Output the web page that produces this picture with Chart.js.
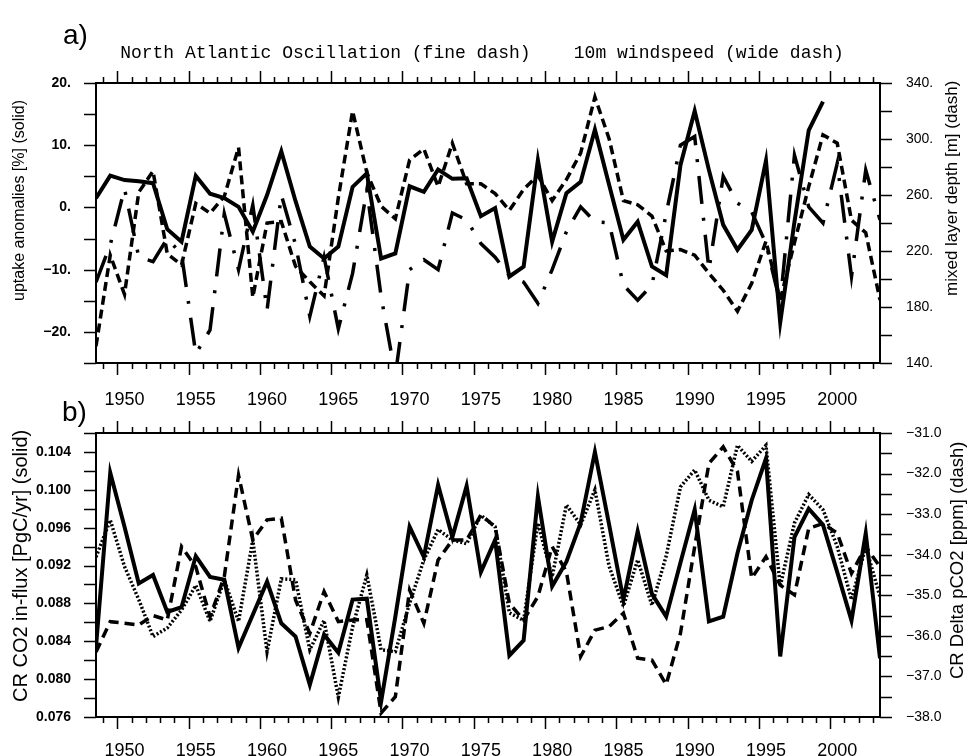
<!DOCTYPE html>
<html><head><meta charset="utf-8">
<script src="https://cdn.jsdelivr.net/npm/chart.js@4.4.1/dist/chart.umd.min.js"></script>
<style>
html,body{margin:0;padding:0;background:#fff;}
#wrap{position:relative;width:976px;height:756px;overflow:hidden;background:#fff;}
canvas{position:absolute;left:0;}
#ca{top:0;}
#cb{top:380px;}
</style></head><body>
<div id="wrap"><canvas id="ca" width="976" height="410"></canvas><canvas id="cb" width="976" height="376"></canvas></div>
<script>
// ---------- data ----------
const years = [1948,1949,1950,1951,1952,1953,1954,1955,1956,1957,1958,1959,1960,1961,1962,1963,1964,1965,1966,1967,1968,1969,1970,1971,1972,1973,1974,1975,1976,1977,1978,1979,1980,1981,1982,1983,1984,1985,1986,1987,1988,1989,1990,1991,1992,1993,1994,1995,1996,1997,1998,1999,2000,2001,2002,2003];

// panel a
const uptakeSolid = [1.5,5.1,4.4,4.2,3.9,-3.5,-5.5,5.1,2.2,1.5,0.1,-3.9,2.0,9.0,1.0,-6.3,-8.2,-6.3,3.3,5.5,-8.2,-7.4,3.4,2.5,6.1,4.6,4.7,-1.4,-0.1,-11.1,-9.5,7.6,-5.5,2.3,4.1,12.5,3.6,-5.2,-2.3,-9.5,-10.9,6.8,15.5,6.0,-2.8,-6.8,-3.6,7.5,-18.5,-2.3,12.4,17.0,null,null,null,null];
const mldDash = [152,217,189,262,277,218,210,254,247,259,294,187,240,241,209,198,188,258,320,276,252,243,285,293,266,297,268,268,261,249,264,274,256,271,290,330,300,256,253,245,220,221,217,204,192,177,197,227,185,226,266,303,297,242,233,185];
const windWideDash = [-12,-6,3,-8,-8.7,-5,-7.5,-23.5,-19.7,-1,-10,0.4,-16.5,2,-6,-17.5,-8,-19.5,-10.6,2.8,-14.3,-27,-10,-8.4,-10,-0.9,-2,-5.8,-8,-11,-12,-15.4,-10,-3.9,0.1,-2.3,-2.5,-12.5,-14.9,-12.5,-1,10,11.4,-10,5,0.7,-0.7,-5.8,-15.4,8.4,0.1,-2.5,7.1,-11.1,6,-2];

// panel b
const influxSolid = [0.0834,0.1018,0.0961,0.0901,0.0910,0.0871,0.0876,0.0930,0.0908,0.0905,0.0833,0.0868,0.0903,0.0859,0.0845,0.0794,0.0847,0.0828,0.0884,0.0885,0.0776,0.0866,0.0961,0.0929,0.1005,0.0950,0.1004,0.0913,0.0947,0.0825,0.0841,0.0993,0.0898,0.0924,0.0965,0.1040,0.0963,0.0884,0.0956,0.0890,0.0866,0.0923,0.0979,0.0861,0.0866,0.0933,0.0989,0.1033,0.0824,0.0950,0.0980,0.0963,0.0913,0.0862,0.0954,0.0822];
const influxDotted = [0.0929,0.0968,0.0919,0.0884,0.0845,0.0854,0.0873,0.0899,0.0861,0.0905,0.0861,0.0947,0.0829,0.0906,0.0905,0.0831,0.0862,0.0781,0.0855,0.0910,0.0831,0.0829,0.0880,0.0926,0.0958,0.0947,0.0943,0.0973,0.0961,0.0870,0.0862,0.0965,0.0908,0.0984,0.0963,0.1000,0.0919,0.0877,0.0926,0.0878,0.0930,0.1003,0.1021,0.0989,0.0982,0.1047,0.1030,0.1047,0.0898,0.0965,0.0995,0.0979,0.0940,0.0884,0.0940,0.0887];
const deltaPco2Dash = [-36.4,-35.65,-35.69,-35.73,-35.5,-35.61,-33.8,-34.3,-35.53,-34.54,-32.04,-33.64,-33.14,-33.1,-35.12,-35.94,-34.91,-35.65,-35.61,-35.6,-37.9,-37.5,-34.87,-35.69,-34.13,-33.64,-33.64,-33.02,-33.31,-35.2,-35.61,-35.03,-33.8,-34.42,-36.51,-35.86,-35.77,-35.44,-36.55,-36.6,-37.2,-35.94,-33.8,-31.75,-31.34,-31.95,-34.58,-34.05,-34.75,-34.99,-33.35,-33.23,-33.47,-34.46,-33.8,-34.3];

// tick labels
const yearTicks = [1950,1955,1960,1965,1970,1975,1980,1985,1990,1995,2000];
const leftTicksA = [-20,-10,0,10,20];
const rightTicksA = [140,180,220,260,300,340];
const leftTicksB = [0.076,0.080,0.084,0.088,0.092,0.096,0.100,0.104];
const rightTicksB = [-38,-37,-36,-35,-34,-33,-32,-31];

// ---------- plugins ----------
const frameTicks = {
  id: 'frameTicks',
  afterDraw(chart, args, o) {
    const {ctx, chartArea: a, scales} = chart;
    ctx.save();
    ctx.strokeStyle = '#000';
    ctx.lineWidth = 1.5;
    ctx.beginPath();
    const xs = scales.x;
    for (let b = xs.min + 0.5; b < xs.max; b += 1) {
      const px = Math.round(xs.getPixelForValue(b)) + 0.5;
      const major = Math.round(b + 0.5) % 5 === 0;
      const len = major ? 12 : 6;
      ctx.moveTo(px, a.top); ctx.lineTo(px, a.top - len);
      ctx.moveTo(px, a.bottom); ctx.lineTo(px, a.bottom + len);
    }
    const drawY = (scale, start, end, step, side) => {
      const n = Math.round((end - start) / step);
      for (let i = 0; i <= n; i++) {
        const v = start + i * step;
        const py = Math.round(scale.getPixelForValue(v)) + 0.5;
        if (side === 'left') { ctx.moveTo(a.left, py); ctx.lineTo(a.left - 12, py); }
        else { ctx.moveTo(a.right, py); ctx.lineTo(a.right + 12, py); }
      }
    };
    drawY(scales.yL, o.l[0], o.l[1], o.l[2], 'left');
    drawY(scales.yR, o.r[0], o.r[1], o.r[2], 'right');
    ctx.stroke();
    ctx.lineWidth = 2;
    ctx.strokeRect(a.left, a.top, a.right - a.left, a.bottom - a.top);
    ctx.restore();
  }
};
const panelText = {
  id: 'panelText',
  afterDraw(chart, args, o) {
    const ctx = chart.ctx;
    ctx.save();
    ctx.fillStyle = '#000';
    for (const t of o.items) {
      ctx.save();
      ctx.font = t.font;
      ctx.translate(t.x, t.y);
      if (t.rot) ctx.rotate(-Math.PI / 2);
      ctx.textAlign = t.align || 'left';
      ctx.textBaseline = 'middle';
      ctx.fillText(t.text, 0, 0);
      ctx.restore();
    }
    ctx.restore();
  }
};

const pairs = arr => years.map((y, i) => ({x: y, y: arr[i]}));
const lineDs = (arr, axis, width, dash) => ({
  data: pairs(arr), yAxisID: axis, borderColor: '#000', backgroundColor: '#000',
  borderWidth: width, borderDash: dash, pointRadius: 0, fill: false, tension: 0,
  borderJoinStyle: 'miter', borderCapStyle: 'butt', spanGaps: false
});

function options(c) {
  return {
    responsive: false, animation: false, devicePixelRatio: 1,
    layout: {padding: {top: c.padTop, left: 0, right: 0, bottom: 0}},
    plugins: {legend: {display: false}, tooltip: {enabled: false}, title: {display: false},
      frameTicks: c.frame, panelText: {items: c.texts}},
    scales: {
      x: {type: 'linear', position: 'bottom', min: 1948, max: 2003,
        grid: {display: false}, border: {display: false},
        afterBuildTicks: s => { s.ticks = yearTicks.map(v => ({value: v})); },
        afterFit: s => { s.height = c.xHeight; },
        ticks: {font: {family: 'Liberation Sans', size: 18}, color: '#000', padding: c.xPad,
          maxRotation: 0, autoSkip: false, callback: v => String(v)}},
      yL: {type: 'linear', position: 'left', min: c.yL[0], max: c.yL[1],
        grid: {display: false}, border: {display: false},
        afterBuildTicks: s => { s.ticks = c.yLTicks.map(v => ({value: v})); },
        afterFit: s => { s.width = 96; },
        ticks: {font: {family: 'Liberation Sans', size: 14, weight: 'bold'}, color: '#000', padding: 17,
          callback: c.yLFmt}},
      yR: {type: 'linear', position: 'right', min: c.yR[0], max: c.yR[1],
        grid: {display: false}, border: {display: false},
        afterBuildTicks: s => { s.ticks = c.yRTicks.map(v => ({value: v})); },
        afterFit: s => { s.width = 96; },
        ticks: {font: {family: 'Liberation Sans', size: 14}, color: '#000', padding: 18,
          callback: c.yRFmt}}
    }
  };
}

const minus = '\u2212';
new Chart(document.getElementById('ca'), {
  type: 'line',
  data: {datasets: [
    lineDs(windWideDash, 'yL', 3.5, [28, 14, 3, 14]),
    lineDs(mldDash, 'yR', 3.5, [9, 5]),
    lineDs(uptakeSolid, 'yL', 4, [])
  ]},
  options: options({
    padTop: 83, xHeight: 47, xPad: 18,
    yL: [-25, 20], yR: [140, 340], yLTicks: leftTicksA, yRTicks: rightTicksA,
    yLFmt: v => (v < 0 ? minus : '') + Math.abs(v) + '.',
    yRFmt: v => v + '.',
    frame: {l: [-25, 20, 5], r: [140, 340, 20]},
    texts: [
      {text: 'a)', x: 63, y: 36, font: '28px "Liberation Sans"'},
      {text: 'North Atlantic Oscillation (fine dash)    10m windspeed (wide dash)', x: 482, y: 53, align: 'center', font: '18px "Liberation Mono"'},
      {text: 'uptake anomalies [%] (solid)', x: 20, y: 301, rot: true, font: '16px "Liberation Sans"'},
      {text: 'mixed layer depth [m] (dash)', x: 952, y: 296, rot: true, font: '17px "Liberation Sans"'}
    ]
  }),
  plugins: [frameTicks, panelText]
});

new Chart(document.getElementById('cb'), {
  type: 'line',
  data: {datasets: [
    lineDs(deltaPco2Dash, 'yR', 3.5, [10, 6]),
    lineDs(influxDotted, 'yL', 3.5, [2, 2]),
    lineDs(influxSolid, 'yL', 4, [])
  ]},
  options: options({
    padTop: 53, xHeight: 39, xPad: 15,
    yL: [0.076, 0.106], yR: [-38, -31], yLTicks: leftTicksB, yRTicks: rightTicksB,
    yLFmt: v => v.toFixed(3),
    yRFmt: v => minus + Math.abs(v).toFixed(1),
    frame: {l: [0.076, 0.106, 0.002], r: [-38, -31, 0.5]},
    texts: [
      {text: 'b)', x: 62, y: 33, font: '28px "Liberation Sans"'},
      {text: 'CR CO2 in-flux [PgC/yr] (solid)', x: 21, y: 322, rot: true, font: '20px "Liberation Sans"'},
      {text: 'CR Delta pCO2 [ppm] (dash)', x: 958, y: 299, rot: true, font: '18.5px "Liberation Sans"'}
    ]
  }),
  plugins: [frameTicks, panelText]
});
</script>
</body></html>
